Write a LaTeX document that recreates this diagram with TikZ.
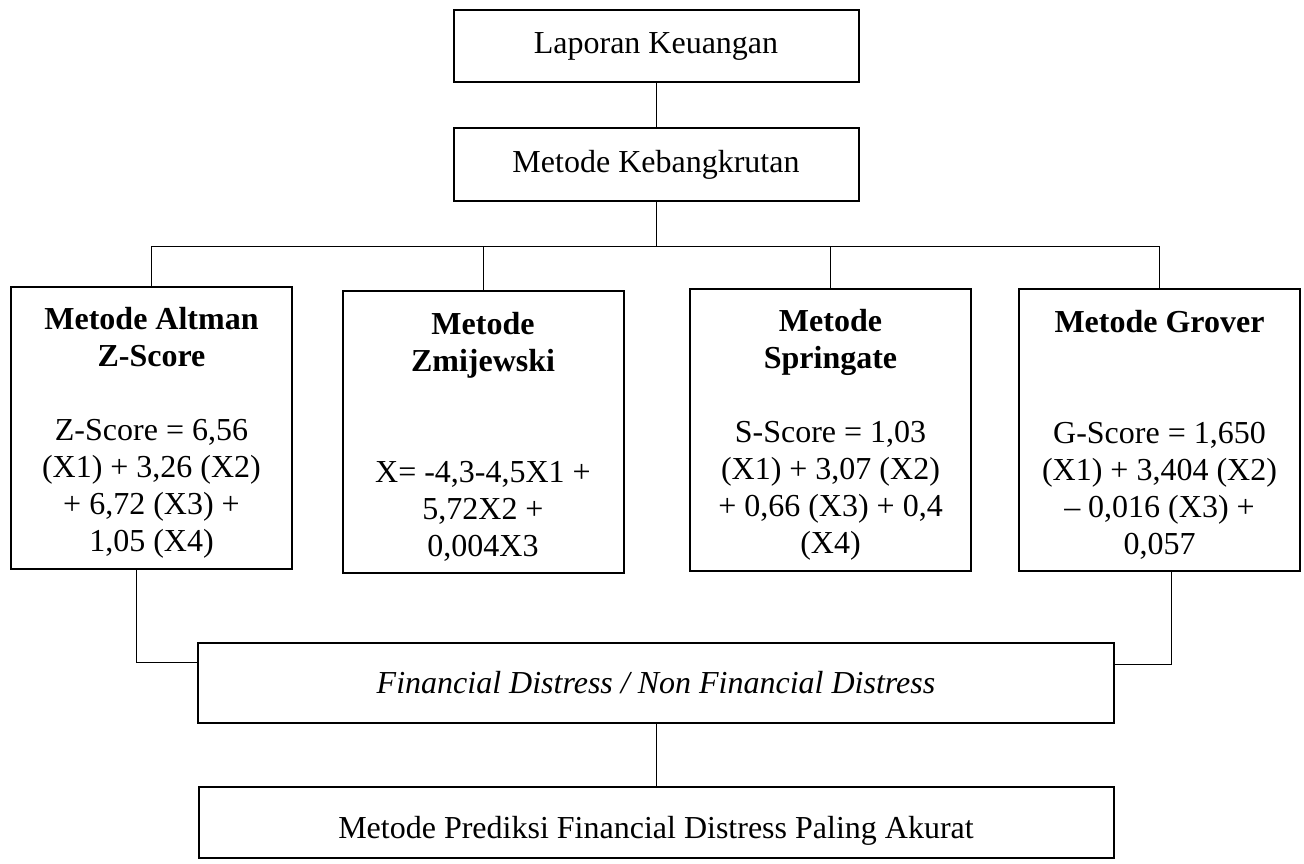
\documentclass[tikz,border=0pt]{standalone}
\usepackage{fontspec}
\setmainfont{Liberation Serif}
\usepackage{tikz}
\newcommand{\topstrut}{\rule{0pt}{32bp}}

\begin{document}
\begin{tikzpicture}[font=\fontsize{32bp}{37bp}\selectfont,
  box/.style={draw,line width=2bp,inner sep=0bp,align=flush center},
  method/.style={box,text width=270bp,minimum width=281bp,minimum height=282bp},
  link/.style={line width=1bp}]
\useasboundingbox (0bp,0bp) rectangle (1304bp,-864bp);

\node (LK) at (656bp,-46bp)[box,minimum width=405bp,minimum height=72bp] {Laporan Keuangan};
\node (MK) at (656bp,-164.5bp)[box,minimum width=405bp,minimum height=73bp] {Metode Kebangkrutan};
\coordinate (bus) at (656bp,-246bp);
\node (ALT) at (151.5bp,-428bp)[method] {\topstrut\textbf{Metode Altman}\\\textbf{Z-Score}\\[37bp]Z-Score = 6,56\\(X1) + 3,26 (X2)\\+ 6,72 (X3) +\\1,05 (X4)};
\node (ZMI) at (483bp,-431.5bp)[method] {\topstrut\textbf{Metode}\\\textbf{Zmijewski}\\[74bp]X= -4,3-4,5X1 +\\5,72X2 +\\0,004X3};
\node (SPR) at (830.5bp,-430bp)[method] {\topstrut\textbf{Metode}\\\textbf{Springate}\\[37bp]S-Score = 1,03\\(X1) + 3,07 (X2)\\+ 0,66 (X3) + 0,4\\(X4)};
\node (GRO) at (1159.5bp,-430bp)[method] {\topstrut\textbf{Metode Grover}\\[74bp]G-Score = 1,650\\(X1) + 3,404 (X2)\\– 0,016 (X3) +\\0,057};
\node (FD) at (656bp,-683bp)[box,minimum width=916bp,minimum height=80bp] {\textit{Financial Distress / Non Financial Distress}};
\node (AKR) at (656bp,-822.5bp)[box,minimum width=915bp,minimum height=71bp] {\rule{0pt}{38bp}Metode Prediksi Financial Distress Paling Akurat};
\draw [link] (LK) -- (MK);
\draw [link] (MK) -- (bus) -| (ALT);
\draw [link] (bus) -| (ZMI);
\draw [link] (bus) -| (SPR);
\draw [link] (bus) -| (GRO);
\draw [link] ([xshift=-15bp]ALT.south) |- ([yshift=21bp]FD.west);
\draw [link] ([xshift=12bp]GRO.south) |- ([yshift=19bp]FD.east);
\draw [link] (FD) -- (AKR);
\end{tikzpicture}
\end{document}
